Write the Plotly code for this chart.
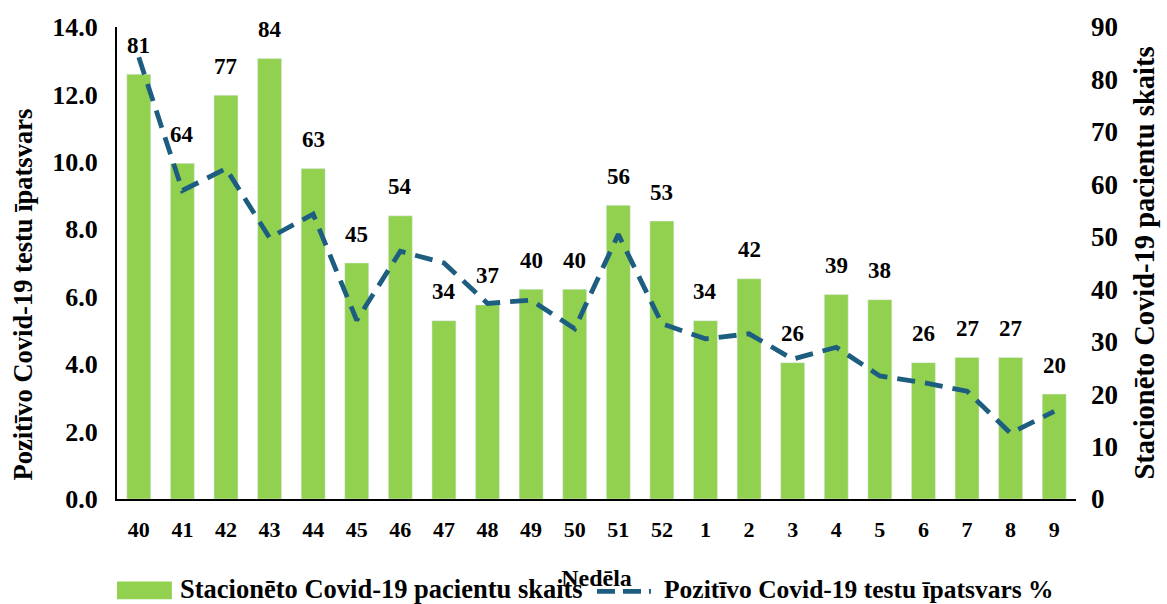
import plotly.graph_objects as go

weeks = ["40", "41", "42", "43", "44", "45", "46", "47", "48", "49", "50",
         "51", "52", "1", "2", "3", "4", "5", "6", "7", "8", "9"]
patients = [81, 64, 77, 84, 63, 45, 54, 34, 37, 40, 40, 56, 53, 34, 42, 26,
            39, 38, 26, 27, 27, 20]
positive_share = [13.1, 9.15, 9.8, 7.75, 8.45, 5.3, 7.35, 7.0, 5.8, 5.9, 5.05,
                  7.85, 5.2, 4.75, 4.9, 4.15, 4.5, 3.65, 3.45, 3.2, 1.95, 2.6]

bar_name = "Stacionēto Covid-19 pacientu skaits"
line_name = "Pozitīvo Covid-19 testu īpatsvars %"
left_title = "Pozitīvo Covid-19 testu īpatsvars"
right_title = "Stacionēto Covid-19 pacientu skaits"
x_title = "Nedēla"

GREEN = "#92D050"
BLUE = "#1C5D80"
FONT = "Liberation Serif"

fig = go.Figure()
fig.add_trace(go.Bar(x=weeks, y=patients, name=bar_name, marker_color=GREEN,
                     width=0.55, yaxis="y", showlegend=False))
fig.add_trace(go.Scatter(x=weeks, y=positive_share, name=line_name, mode="lines",
                         line=dict(color=BLUE, width=4.8, dash="18px,10px"),
                         yaxis="y2", showlegend=False))

annotations = []
for i, v in enumerate(patients):
    annotations.append(dict(x=i, y=v, xref="x", yref="y", text=f"<b>{v}</b>",
                            showarrow=False, yanchor="middle", yshift=29,
                            font=dict(family=FONT, size=23, color="black")))

# custom legend and left title (pixel positions converted to paper coordinates)
L, R, T, B = 117, 1078, 24, 499
def px(x):
    return (x - L) / (R - L)
def py(y):
    return (B - y) / (B - T)

shapes = [
    dict(type="rect", xref="paper", yref="paper", x0=px(117), x1=px(172),
         y0=py(600), y1=py(582), fillcolor=GREEN, line=dict(width=0)),
    dict(type="line", xref="paper", yref="paper", x0=px(598), x1=px(652),
         y0=py(592), y1=py(592), line=dict(color=BLUE, width=4.8, dash="18px,8px")),
]
annotations.append(dict(x=px(178), y=py(590), xref="paper", yref="paper",
                        text=f"<b>{bar_name}</b>", showarrow=False,
                        xanchor="left", yanchor="middle",
                        font=dict(family=FONT, size=26.5, color="black")))
annotations.append(dict(x=px(663), y=py(590), xref="paper", yref="paper",
                        text=f"<b>{line_name}</b>", showarrow=False,
                        xanchor="left", yanchor="middle",
                        font=dict(family=FONT, size=25.5, color="black")))
annotations.append(dict(x=px(23), y=py(293), xref="paper", yref="paper",
                        text=f"<b>{left_title}</b>", showarrow=False,
                        textangle=-90, xanchor="center", yanchor="middle",
                        font=dict(family=FONT, size=26.5, color="black")))

fig.update_layout(
    width=1167, height=604,
    margin=dict(l=117, r=89, t=24, b=105),
    paper_bgcolor="white", plot_bgcolor="white",
    font=dict(family=FONT, size=22, color="black"),
    xaxis=dict(type="category", range=[-0.5, 21.5], showline=True,
               linecolor="black", linewidth=2, ticks="", showgrid=False,
               ticklabelstandoff=10,
               tickfont=dict(family=FONT, size=22, color="black"),
               tickprefix="<b>", ticksuffix="</b>",
               title=dict(text=f"<b>{x_title}</b>", standoff=28,
                          font=dict(family=FONT, size=24, color="black"))),
    yaxis=dict(range=[0, 90], dtick=10, side="right", showline=False,
               showgrid=False, zeroline=False, ticks="", ticklabelstandoff=14,
               tickfont=dict(family=FONT, size=27, color="black"),
               tickprefix="<b>", ticksuffix="</b>",
               title=dict(text=f"<b>{right_title}</b>", standoff=17,
                          font=dict(family=FONT, size=28.5, color="black"))),
    yaxis2=dict(range=[0, 14], dtick=2, tickformat=".1f", side="left",
                overlaying="y", showline=True, linecolor="black", linewidth=2,
                showgrid=False, zeroline=False, ticks="", ticklabelstandoff=12,
                tickfont=dict(family=FONT, size=26, color="black"),
                tickprefix="<b>", ticksuffix="</b>"),
    annotations=annotations,
    shapes=shapes,
    showlegend=False,
)

fig.write_html("out.html", config={"displayModeBar": False},
               post_script="document.body.style.margin='0';")
